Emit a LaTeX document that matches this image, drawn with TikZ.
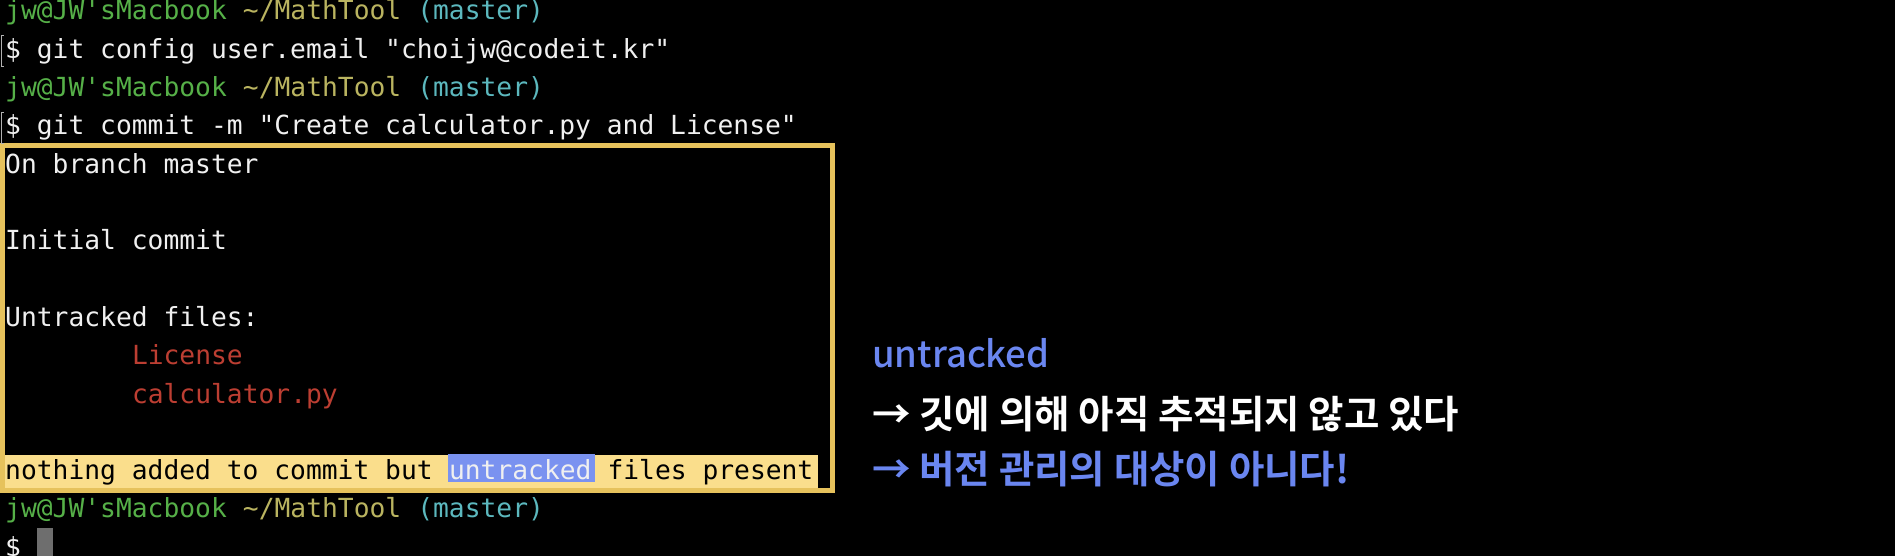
\documentclass[tikz,border=0pt]{standalone}
\usepackage{fontspec}
\usepackage{xcolor}
\usepackage{tikz}
\setmonofont{DejaVu Sans Mono}
\newfontfamily\krmed{Noto Sans CJK KR Medium}
\newfontfamily\krbold{Noto Sans CJK KR Bold}

\definecolor{termw}{RGB}{240,240,240}
\definecolor{userg}{RGB}{86,176,72}
\definecolor{patho}{RGB}{186,180,96}
\definecolor{brcyan}{RGB}{92,184,190}
\definecolor{filered}{RGB}{188,62,50}
\definecolor{boxgold}{RGB}{230,194,92}
\definecolor{barfill}{RGB}{250,222,140}
\definecolor{hlblue}{RGB}{122,146,240}
\definecolor{noteblue}{RGB}{106,134,240}
\definecolor{cursorgray}{RGB}{110,110,110}

\newcommand{\cw}{15.85}
\newcommand{\lh}{38.3}

\begin{document}
\begin{tikzpicture}[x=1pt, y=-1pt, font=\ttfamily\fontsize{26.3}{30}\selectfont]
	\useasboundingbox (0,0) rectangle (1895,556);
	\fill[black] (0,0) rectangle (1895,556);
	% Define styles
	\tikzstyle{term}=[anchor=base west, inner sep=0pt, text=termw]
	\tikzstyle{user}=[term, text=userg]
	\tikzstyle{path}=[term, text=patho]
	\tikzstyle{branch}=[term, text=brcyan]
	\tikzstyle{file}=[term, text=filered]
	\tikzstyle{note}=[anchor=base west, inner sep=0pt, font=\krbold\fontsize{38.5}{44}\selectfont]

	% yellow frame and status bar
	\fill[barfill] (5,455) rectangle (818,488);
	\fill[hlblue] (448,454) rectangle (595,482);
	\draw[boxgold, line width=5pt] (2.5,145.5) rectangle (832.5,490.5);

	% line marks
	\draw[gray!60, line width=0.8pt] (4,35) -- (1.5,35) -- (1.5,66) -- (4,66);
	\draw[gray!60, line width=0.8pt] (4,112) -- (1.5,112) -- (1.5,143) -- (4,143);

	\node[user] (u1) at (5,20) {jw@JW'sMacbook};
		\node[path] (p1) at ({5+15*\cw},20) {\textasciitilde/MathTool};
		\node[branch] (b1) at ({5+26*\cw},20) {(master)};
	\node[term] (cmd1) at (5,{20+\lh}) {\$ git config user.email "choijw@codeit.kr"};
	\node[user] (u2) at (5,{20+2*\lh}) {jw@JW'sMacbook};
		\node[path] (p2) at ({5+15*\cw},{20+2*\lh}) {\textasciitilde/MathTool};
		\node[branch] (b2) at ({5+26*\cw},{20+2*\lh}) {(master)};
	\node[term] (cmd2) at (5,{20+3*\lh}) {\$ git commit -m "Create calculator.py and License"};

	\node[term] (onbr) at (5,{20+4*\lh}) {On branch master};
	\node[term] (init) at (5,{20+6*\lh}) {Initial commit};
	\node[term] (untf) at (5,{20+8*\lh}) {Untracked files:};
		\node[file] (lic) at ({5+8*\cw},{20+9*\lh}) {License};
		\node[file] (calc) at ({5+8*\cw},{20+10*\lh}) {calculator.py};

	\node[term, text=black] (st1) at (5,{20+12*\lh}) {nothing added to commit but};
	\node[term] (st2) at ({5+28*\cw},{20+12*\lh}) {untracked};
	\node[term, text=black] (st3) at ({5+38*\cw},{20+12*\lh}) {files present};

	\node[user] (u3) at (5,{20+13*\lh}) {jw@JW'sMacbook};
		\node[path] (p3) at ({5+15*\cw},{20+13*\lh}) {\textasciitilde/MathTool};
		\node[branch] (b3) at ({5+26*\cw},{20+13*\lh}) {(master)};
	\node[term] (dollar) at (5,{20+14*\lh}) {\$};
	\fill[cursorgray] ({5+2*\cw},528) rectangle ({5+3*\cw},556);

	% note on the right
	\node[note, text=noteblue, font=\krmed\fontsize{36.5}{42}\selectfont] (untr) at (872,367) {untracked};
	\node[note, text=white] (why) at (872,428) {→ 깃에 의해 아직 추적되지 않고 있다};
	\node[note, text=noteblue] (notvc) at (872,483) {→ 버전 관리의 대상이 아니다!};
\end{tikzpicture}
\end{document}
